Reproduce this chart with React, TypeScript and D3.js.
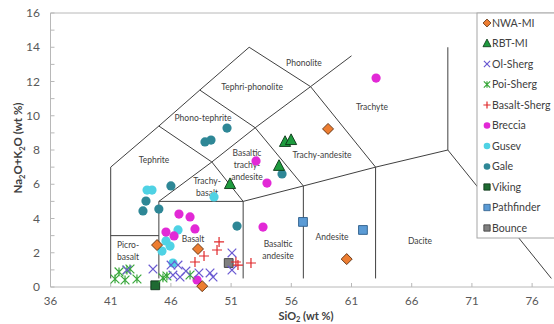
import React from 'react';
import * as d3 from 'd3';

// TAS diagram data (SiO2 wt %, Na2O+K2O wt %)
const xTicks = [36, 41, 46, 51, 56, 61, 66, 71, 76];
const yTicks = [0, 2, 4, 6, 8, 10, 12, 14, 16];

const boundaries: [number, number][][] = [
  [[41, 0.5], [41, 7], [45, 9.4], [48.4, 11.5], [52.5, 14]],
  [[41, 3], [45, 3]],
  [[45, 0.5], [45, 5], [52, 5], [57, 5.9], [63, 7], [69, 8]],
  [[52, 0.5], [52, 5]],
  [[57, 0.5], [57, 5.9]],
  [[63, 0.5], [63, 7]],
  [[45, 5], [49.4, 7.3], [53, 9.3], [57.6, 11.7], [61, 13.5]],
  [[49.4, 7.3], [52, 5]],
  [[53, 9.3], [57, 5.9]],
  [[57.6, 11.7], [63, 7]],
  [[45, 9.4], [49.4, 7.3]],
  [[48.4, 11.5], [53, 9.3]],
  [[52.5, 14], [57.6, 11.7]],
  [[69, 8], [69, 14]],
  [[69, 8], [77.6, 0.5]],
];

const regionNames = [
  ['Phonolite'], ['Tephri-phonolite'], ['Phono-tephrite'], ['Trachyte'], ['Tephrite'],
  ['Trachy-andesite'], ['Basaltic', 'trachy-', 'andesite'], ['Trachy-', 'basalt'],
  ['Picro-', 'basalt'], ['Basalt'], ['Basaltic', 'andesite'], ['Andesite'], ['Dacite'],
];
const regionAt: [number, number][] = [
  [57.05, 13.08], [52.74, 11.68], [48.67, 9.87], [62.7, 10.51], [44.6, 7.42],
  [58.55, 7.71], [52.32, 7.12], [49.0, 5.84],
  [42.44, 2.1], [47.84, 2.8], [54.9, 2.16], [59.38, 2.92], [66.69, 2.69],
];

const nwaMI: [number, number][] = [[44.85, 2.45], [48.25, 2.22], [48.6, 0.05], [59.05, 9.23], [60.6, 1.63]];
const rbtMI: [number, number][] = [[55.48, 8.47], [55.98, 8.58], [54.98, 7.07], [50.91, 6.01]];
const olSherg: [number, number][] = [
  [42.35, 0.99], [44.51, 1.05], [46.01, 1.28], [46.59, 1.28], [46.17, 0.7], [46.76, 0.58],
  [47.25, 0.93], [48.33, 0.82], [49.25, 0.82], [49.5, 0.58], [51.07, 1.99], [51.07, 0.99],
];
const poiSherg: [number, number][] = [
  [41.36, 0.47], [41.69, 0.88], [42.35, 0.99], [42.6, 1.05], [42.19, 0.41], [43.18, 0.47],
  [45.34, 0.53], [45.67, 0.64], [47.59, 0.7],
];
const basaltSherg: [number, number][] = [
  [50.0, 2.63], [49.83, 2.16], [48.75, 1.81], [48.0, 1.46], [51.4, 1.46], [51.57, 1.28], [52.65, 1.4],
];
const breccia: [number, number][] = [
  [46.67, 4.26], [47.59, 4.09], [48.0, 3.39], [45.59, 3.21], [46.26, 2.98], [48.17, 0.41],
  [53.07, 7.36], [53.98, 6.07], [53.65, 3.5], [63.04, 12.2],
];
const gusev: [number, number][] = [
  [44.02, 5.66], [44.43, 5.66], [46.59, 3.33], [45.59, 2.69], [45.93, 2.39], [45.26, 2.1],
  [46.17, 1.4], [49.58, 5.26],
];
const gale: [number, number][] = [
  [46.0, 5.9], [43.93, 5.02], [43.68, 4.44], [45.0, 4.55], [48.83, 8.47], [49.33, 8.58],
  [50.66, 9.28], [55.23, 6.6], [51.49, 3.56],
];
const viking: [number, number][] = [[44.7, 0.1]];
const pathfinder: [number, number][] = [[56.97, 3.8], [61.95, 3.33]];
const bounce: [number, number][] = [[50.8, 1.4]];

type Shape = 'circle' | 'diamond' | 'triangle' | 'square' | 'x' | 'plus' | 'star';

const series: { name: string; pts: [number, number][]; shape: Shape; fill: string; stroke: string }[] = [
  { name: 'NWA-MI', pts: nwaMI, shape: 'diamond', fill: '#ed7d31', stroke: '#5a2e0e' },
  { name: 'RBT-MI', pts: rbtMI, shape: 'triangle', fill: '#1e9b3e', stroke: '#0b3416' },
  { name: 'Ol-Sherg', pts: olSherg, shape: 'x', fill: 'none', stroke: '#6a5ad2' },
  { name: 'Poi-Sherg', pts: poiSherg, shape: 'star', fill: 'none', stroke: '#3aa83c' },
  { name: 'Basalt-Sherg', pts: basaltSherg, shape: 'plus', fill: 'none', stroke: '#e0282a' },
  { name: 'Breccia', pts: breccia, shape: 'circle', fill: '#e229d6', stroke: 'none' },
  { name: 'Gusev', pts: gusev, shape: 'circle', fill: '#4fd2e4', stroke: 'none' },
  { name: 'Gale', pts: gale, shape: 'circle', fill: '#2e8796', stroke: 'none' },
  { name: 'Viking', pts: viking, shape: 'square', fill: '#1e6a32', stroke: '#0c3317' },
  { name: 'Pathfinder', pts: pathfinder, shape: 'square', fill: '#5b9bd5', stroke: '#2d5d8a' },
  { name: 'Bounce', pts: bounce, shape: 'square', fill: '#808080', stroke: '#3a3a3a' },
];

const W = 554;
const H = 324;
const font = 'Lato, "Open Sans", sans-serif';

function markerPath(shape: Shape, k: number) {
  switch (shape) {
    case 'circle': {
      const r = 4.6 * k;
      return `M${-r},0a${r},${r} 0 1,0 ${2 * r},0a${r},${r} 0 1,0 ${-2 * r},0Z`;
    }
    case 'diamond': {
      const s = 5.5 * k;
      return `M0,${-s}L${s},0L0,${s}L${-s},0Z`;
    }
    case 'triangle': {
      const s = 6.2 * k;
      return `M0,${-s}L${s * 0.9},${s * 0.72}L${-s * 0.9},${s * 0.72}Z`;
    }
    case 'square': {
      const s = 4.4 * k;
      return `M${-s},${-s}H${s}V${s}H${-s}Z`;
    }
    case 'x': {
      const s = 4.3 * k;
      return `M${-s},${-s}L${s},${s}M${-s},${s}L${s},${-s}`;
    }
    case 'plus': {
      const s = 5 * k;
      return `M${-s},0H${s}M0,${-s}V${s}`;
    }
    case 'star': {
      const s = 4.4 * k;
      return `M${-s},${-s}L${s},${s}M${-s},${s}L${s},${-s}M0,${-s}V${s}`;
    }
  }
}

export default function App() {
  const x = d3.scaleLinear().domain([36, 78]).range([50.5, 556.2]);
  const y = d3.scaleLinear().domain([0, 16]).range([287, 13]);
  const line = d3.line<[number, number]>().x(d => x(d[0])).y(d => y(d[1]));
  const minor = d3.range(0, 17, 1);

  const lx = 477;
  const ly = 13;
  const step = 20.5;

  return (
    <svg width={W} height={H} style={{ position: 'absolute', left: 0, top: 0, background: '#fff' }} fontFamily={font}>
      {/* plot frame */}
      <line x1={x(36)} x2={W} y1={y(16)} y2={y(16)} stroke="#b8b8b8" />
      <line x1={x(36)} x2={x(36)} y1={y(0)} y2={y(16)} stroke="#b8b8b8" />
      <line x1={x(36)} x2={W} y1={y(0)} y2={y(0)} stroke="#b8b8b8" />
      {minor.map(v => (
        <line key={'ym' + v} x1={x(36)} x2={x(36) + 4} y1={y(v)} y2={y(v)} stroke="#b8b8b8" />
      ))}
      {xTicks.map(v => (
        <line key={'xt' + v} x1={x(v)} x2={x(v)} y1={y(0)} y2={y(0) - 4} stroke="#b8b8b8" />
      ))}
      {yTicks.map(v => (
        <text key={'yl' + v} x={40} y={y(v)} dy="0.35em" textAnchor="end" fontSize={12} fill="#595959">{v}</text>
      ))}
      {xTicks.map(v => (
        <text key={'xl' + v} x={x(v)} y={305} textAnchor="middle" fontSize={11.5} fill="#595959">{v}</text>
      ))}

      {/* field boundaries */}
      {boundaries.map((b, i) => (
        <path key={'b' + i} d={line(b) || ''} fill="none" stroke="#404040" strokeWidth={1} />
      ))}
      {regionNames.map((lines, i) => (
        <text key={'r' + i} x={x(regionAt[i][0])} y={y(regionAt[i][1])} textAnchor="middle" fontSize={8.5} fill="#404040">
          {lines.map((t, j) => (
            <tspan key={j} x={x(regionAt[i][0])} dy={j === 0 ? (0.35 - (lines.length - 1) * 0.7) + 'em' : '1.4em'}>{t}</tspan>
          ))}
        </text>
      ))}

      {/* data */}
      {series.slice().reverse().map(s => (
        <g key={s.name}>
          {s.pts.map((p, i) => (
            <path key={i} d={markerPath(s.shape, 1)} transform={`translate(${x(p[0])},${y(p[1])})`}
              fill={s.fill} stroke={s.stroke} strokeWidth={s.fill === 'none' ? 1.2 : 0.9} />
          ))}
        </g>
      ))}

      {/* axis titles */}
      <text x={306} y={319.5} textAnchor="middle" fontSize={11} fontWeight="bold" fill="#404040">
        SiO<tspan fontSize={7.5} dy={2.5}>2</tspan><tspan dy={-2.5}> (wt %)</tspan>
      </text>
      <text transform="translate(22,148) rotate(-90)" textAnchor="middle" fontSize={11.5} fontWeight="bold" fill="#404040">
        Na<tspan fontSize={7.5} dy={3}>2</tspan><tspan dy={-3}>O+K</tspan><tspan fontSize={7.5} dy={3}>2</tspan><tspan dy={-3}>O (wt %)</tspan>
      </text>

      {/* legend */}
      <rect x={lx} y={ly} width={W - lx + 2} height={225} fill="#fff" stroke="#a6a6a6" />
      {series.map((s, i) => (
        <g key={'lg' + s.name} transform={`translate(${lx + 10},${ly + 10 + i * step})`}>
          <path d={markerPath(s.shape, 0.72)} fill={s.fill} stroke={s.stroke} strokeWidth={s.fill === 'none' ? 1.2 : 0.8} />
          <text x={5} dy="0.35em" fontSize={10.6} fill="#404040">{s.name}</text>
        </g>
      ))}
    </svg>
  );
}
